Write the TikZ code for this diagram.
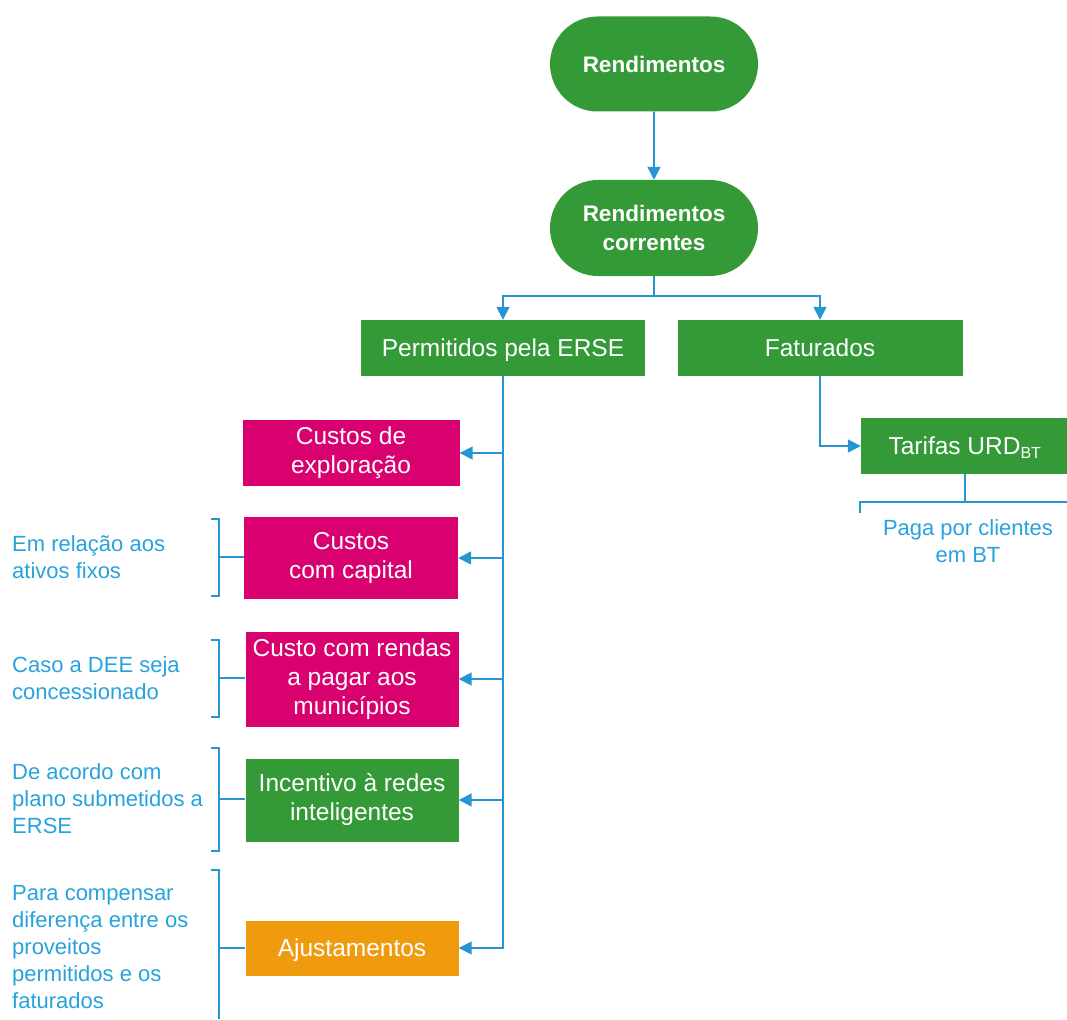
\documentclass[tikz,border=0pt]{standalone}
\usepackage{fontspec}
\setmainfont{Liberation Sans}
\usetikzlibrary{arrows.meta}
\usetikzlibrary{shapes.misc}

\definecolor{boxgreen}{HTML}{349A37}
\definecolor{boxpink}{HTML}{D9006F}
\definecolor{boxorange}{HTML}{F09A0E}
\definecolor{lineblue}{HTML}{2596D2}
\definecolor{noteblue}{HTML}{27A2DD}

\tikzset{
	pill/.style={rounded rectangle, fill=boxgreen, text=white, font=\bfseries\fontsize{22.5}{29}\selectfont,
		minimum width=208pt, minimum height=95pt, align=center, inner sep=0pt},
	box/.style={rectangle, fill=#1, text=white, font=\fontsize{24.5}{29}\selectfont,
		minimum height=56pt, align=center, inner sep=0pt},
	oneline/.style={text height=17.5pt, text depth=0pt},
	flow/.style={draw=lineblue, line width=1.6pt, -{Triangle[length=13pt,width=13pt]}},
	link/.style={draw=lineblue, line width=1.6pt},
	note/.style={text=noteblue, font=\fontsize{22}{27}\selectfont, inner sep=0pt}
}

\begin{document}
\begin{tikzpicture}[x=1pt, y=-1pt]
		\useasboundingbox (0,0) rectangle (1067,1019);
		%
		%Rendimentos
		\node[pill] (rend) at (654,64) {Rendimentos};
		\node[pill, minimum height=96pt] (corr) at (654,228) {Rendimentos\\correntes};
		\draw[flow] (rend) -- (corr);
		%
		%Permitidos / Faturados
		\node[box=boxgreen, oneline, minimum width=284pt] (perm) at (503,348) {Permitidos pela ERSE};
		\node[box=boxgreen, oneline, minimum width=285pt] (fat) at (820,348) {Faturados};
		\coordinate (split) at (654,296);
		\draw[link] (corr) -- (split);
		\draw[flow] (split) -| (perm);
		\draw[flow] (split) -| (fat);
		%
		%Tarifas
		\node[box=boxgreen, oneline, minimum width=208pt] (tarifas) at (965,446) {Tarifas URD\textsubscript{\fontsize{16}{16}\selectfont BT}};
		\draw[flow] (fat) |- (tarifas);
		\draw[link] (tarifas) -- (tarifas |- 0,502);
		\draw[link] (860,513) -- (860,502) -- (1067,502);
		\node[note, align=center] (paga) at (968,541) {Paga por clientes\\em BT};
		%
		%Custos
		\node[box=boxpink, minimum width=217pt, minimum height=66pt] (expl) at (351,453) {Custos de\\exploração};
		\node[box=boxpink, minimum width=214pt, minimum height=82pt] (capital) at (351,558) {Custos\\com capital};
		\node[box=boxpink, minimum width=213pt, minimum height=95pt] (rendas) at (352,679) {Custo com rendas\\a pagar aos\\municípios};
		\node[box=boxgreen, minimum width=213pt, minimum height=83pt] (redes) at (352,800) {Incentivo à redes\\inteligentes};
		\node[box=boxorange, oneline, minimum width=213pt, minimum height=55pt] (ajust) at (352,948) {Ajustamentos};
		\draw[flow] (perm) |- (ajust);
		\draw[flow] (perm.south |- expl) -- (expl);
		\draw[flow] (perm.south |- capital) -- (capital);
		\draw[flow] (perm.south |- rendas) -- (rendas);
		\draw[flow] (perm.south |- redes) -- (redes);
		%
		%Notas
		\draw[link] (211,519) -- (219,519) -- (219,596) -- (211,596);
		\draw[link] (219,557) -- (capital.west |- 0,557);
		\node[note, anchor=west, align=left] (ativos) at (12,557) {Em relação aos\\ativos fixos};
		%
		\draw[link] (211,640) -- (219,640) -- (219,717) -- (211,717);
		\draw[link] (219,678) -- (rendas.west |- 0,678);
		\node[note, anchor=west, align=left] (dee) at (12,678) {Caso a DEE seja\\concessionado};
		%
		\draw[link] (211,748) -- (219,748) -- (219,851) -- (211,851);
		\draw[link] (219,799) -- (redes.west |- 0,799);
		\node[note, anchor=west, align=left] (plano) at (12,799) {De acordo com\\plano submetidos a\\ERSE};
		%
		\draw[link] (211,870) -- (219,870) -- (219,1019);
		\draw[link] (219,948) -- (ajust);
		\node[note, anchor=west, align=left] (compensar) at (12,947) {Para compensar\\diferença entre os\\proveitos\\permitidos e os\\faturados};
	\end{tikzpicture}
\end{document}
